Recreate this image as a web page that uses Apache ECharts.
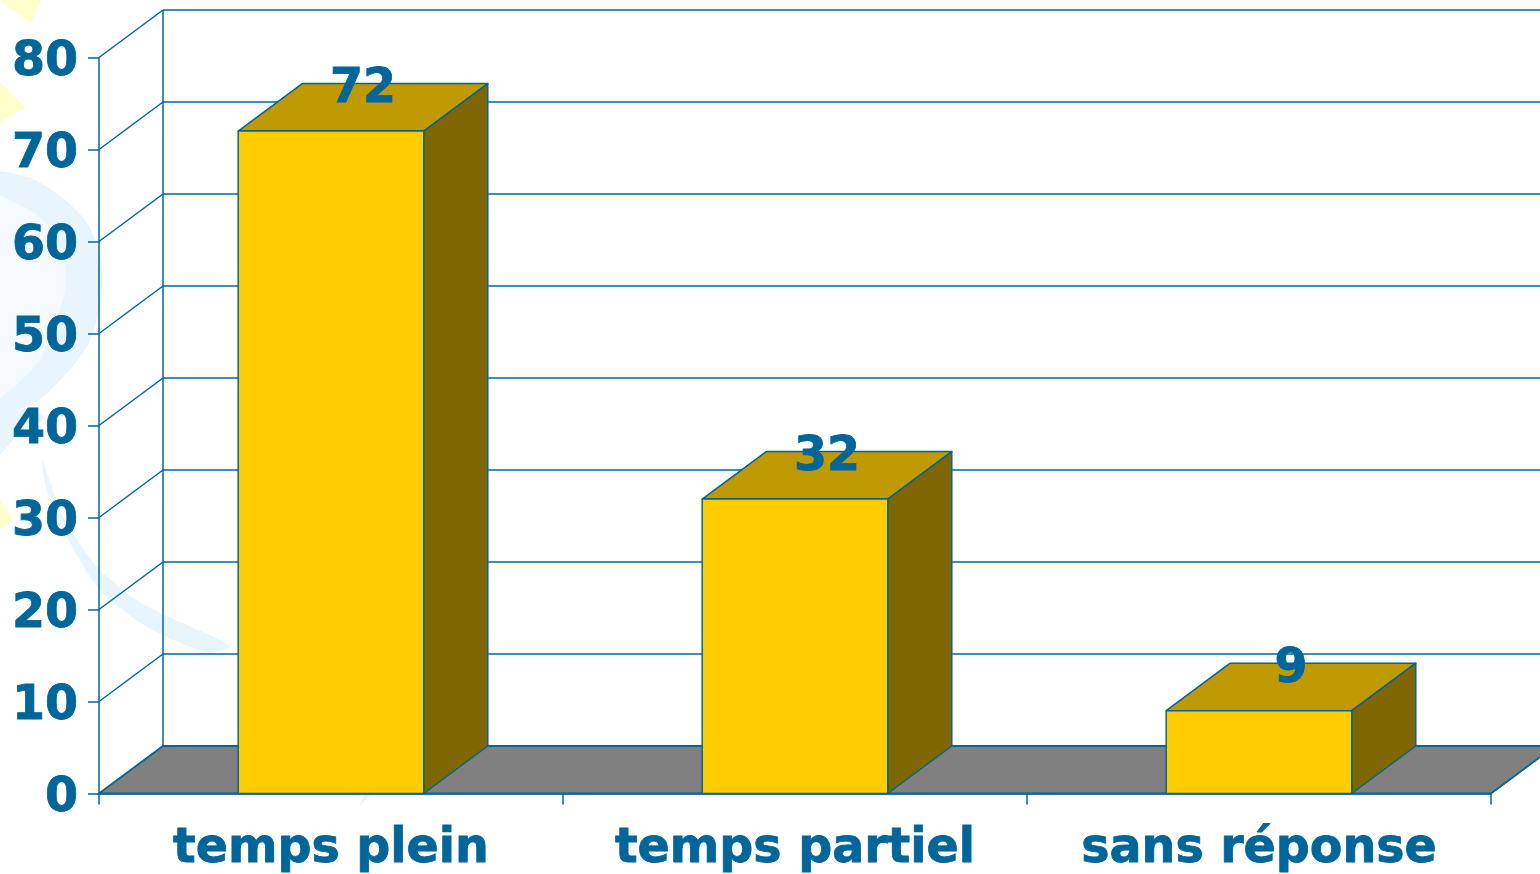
<!DOCTYPE html>
<html>
<head>
<meta charset="utf-8">
<title>temps plein / temps partiel</title>
<style>
    html, body {margin: 0; padding: 0; background: #fff; overflow: hidden;}
    #main {width: 1540px; height: 874px;}
</style>
<script src="https://cdn.jsdelivr.net/npm/echarts@6/dist/echarts.min.js"></script>
</head>
<body>
<div id="main"></div>
<script>
var categories = ['temps plein', 'temps partiel', 'sans réponse'];
var values = [72, 32, 9];
var yTicks = [0, 10, 20, 30, 40, 50, 60, 70, 80];

var blue = '#006699';
var font = '"DejaVu Sans", Verdana, sans-serif';
var depthX = 64, depthY = 47.5;

var myChart = echarts.init(document.getElementById('main'));

// back wall, side wall and floor
function renderWalls(params, api) {
    var v = api.value(1);
    var p = api.coord([0, v]);
    var rect = params.coordSys;
    var x0 = rect.x, x1 = rect.x + rect.width, y = p[1];
    var line = {stroke: blue, lineWidth: 1.5};
    var children = [];
    if (v === 0) {
        children.push({
            type: 'polygon',
            shape: {points: [[x0, y], [x0 + depthX, y - depthY], [x1 + depthX, y - depthY], [x1, y]]},
            style: {fill: '#808080', stroke: blue, lineWidth: 1.8}
        });
        children.push({
            type: 'line',
            shape: {x1: x0 + depthX, y1: y - depthY, x2: x0 + depthX, y2: rect.y - depthY},
            style: line
        });
    } else {
        children.push({
            type: 'line',
            shape: {x1: x0, y1: y, x2: x0 + depthX, y2: y - depthY},
            style: line
        });
        children.push({
            type: 'line',
            shape: {x1: x0 + depthX, y1: y - depthY, x2: x1 + depthX, y2: y - depthY},
            style: line
        });
    }
    return {type: 'group', children: children};
}

function renderBar(params, api) {
    var top = api.coord([api.value(0), api.value(1)]);
    var base = api.coord([api.value(0), 0]);
    var w = api.size([1, 0])[0] * 0.4;
    var l = top[0] - w / 2, r = top[0] + w / 2;
    var edge = {stroke: blue, lineWidth: 1.5, lineJoin: 'round'};
    return {
        type: 'group',
        children: [
            {
                type: 'polygon',
                shape: {points: [[l, top[1]], [l + depthX, top[1] - depthY], [r + depthX, top[1] - depthY], [r, top[1]]]},
                style: Object.assign({fill: '#BF9900'}, edge)
            },
            {
                type: 'polygon',
                shape: {points: [[r, top[1]], [r + depthX, top[1] - depthY], [r + depthX, base[1] - depthY], [r, base[1]]]},
                style: Object.assign({fill: '#806600'}, edge)
            },
            {
                type: 'rect',
                shape: {x: l, y: top[1], width: w, height: base[1] - top[1]},
                style: Object.assign({fill: '#FFCC00'}, edge)
            },
            {
                type: 'text',
                style: {
                    text: String(api.value(1)), x: top[0] + 32, y: top[1] - 41,
                    align: 'center', verticalAlign: 'middle',
                    fill: blue, stroke: blue, lineWidth: 0.8,
                    font: 'bold 47.5px ' + font
                }
            }
        ]
    };
}

var option = {
    animation: false,
    backgroundColor: '#fff',
    // faint slide background behind the chart
    graphic: [
        {type: 'polygon', z: -1, shape: {points: [[0, 0], [41, 0], [31, 24]]}, style: {fill: '#FFFFCC'}},
        {type: 'polygon', z: -1, shape: {points: [[0, 82], [26, 108], [0, 122]]}, style: {fill: '#FFFFCC'}},
        {type: 'polygon', z: -1, shape: {points: [[0, 500], [13, 518], [0, 530]]}, style: {fill: '#FFFFCC'}},
        {type: 'polygon', z: -1, shape: {points: [[-20, 177], [27, 177], [65, 200], [90, 228], [103, 278], [90, 340], [65, 375], [30, 405], [-20, 410]], smooth: 0.3}, style: {fill: '#E8F5FE'}},
        {type: 'polygon', z: -1, shape: {points: [[-20, 196], [20, 205], [52, 232], [66, 278], [52, 330], [30, 372], [-20, 400]], smooth: 0.4}, style: {fill: '#F4FAFF'}},
        {type: 'polygon', z: -1, shape: {points: [[0, 412], [28, 408], [48, 418], [20, 432], [0, 455]]}, style: {fill: '#E8F5FE'}},
        {type: 'polygon', z: -1, shape: {points: [[42, 459], [62, 515], [97, 567], [143, 604], [230, 646], [207, 652], [147, 627], [100, 590], [67, 537], [47, 491]], smooth: 0.25}, style: {fill: '#E8F5FE'}},
        {type: 'polygon', z: -1, shape: {points: [[364, 795], [370, 795], [359, 807]]}, style: {fill: '#E8F5FE'}}
    ],
    grid: {left: 99, top: 57.5, width: 1392, height: 736, containLabel: false},
    xAxis: {
        type: 'category',
        data: categories,
        axisLine: {lineStyle: {color: blue, width: 1.5}},
        axisTick: {show: true, alignWithLabel: false, length: 11, lineStyle: {color: blue, width: 1.5}},
        axisLabel: {
            color: blue, fontFamily: font, fontWeight: 'bold', fontSize: 47.5, margin: 32, interval: 0,
            textBorderColor: blue, textBorderWidth: 0.8
        }
    },
    yAxis: {
        type: 'value',
        min: 0,
        max: 80,
        interval: 10,
        axisLine: {show: true, lineStyle: {color: blue, width: 1.5}},
        axisTick: {show: true, length: 11, lineStyle: {color: blue, width: 1.5}},
        splitLine: {show: false},
        axisLabel: {
            color: blue, fontFamily: font, fontWeight: 'bold', fontSize: 47.5, margin: 21,
            verticalAlign: 'top', lineHeight: 11,
            textBorderColor: blue, textBorderWidth: 0.8
        }
    },
    series: [
        {
            type: 'custom',
            name: 'walls',
            z: 1,
            silent: true,
            renderItem: renderWalls,
            data: yTicks.map(function (v) { return [0, v]; })
        },
        {
            type: 'custom',
            name: 'bars',
            z: 2,
            silent: true,
            renderItem: renderBar,
            data: values.map(function (v, i) { return [i, v]; })
        }
    ]
};

myChart.setOption(option);
</script>
</body>
</html>
